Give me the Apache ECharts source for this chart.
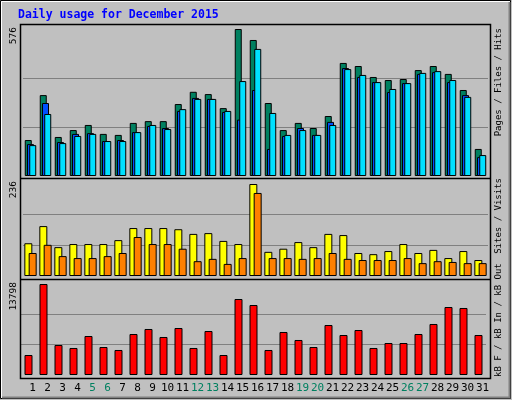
<!DOCTYPE html>
<html><head><meta charset="utf-8">
<script src="https://cdn.jsdelivr.net/npm/echarts@6/dist/echarts.min.js"></script>
<style>html,body{margin:0;padding:0;background:#c0c0c0}#c{width:512px;height:400px}</style>
</head><body><div id="c"></div>
<script>
const days = Array.from({length:31},(_,i)=>String(i+1));
const weekend = ['5','6','12','13','19','20','26','27'];
const hits  = [141,317,153,180,200,165,161,208,215,215,282,330,321,266,576,533,286,180,208,188,235,443,431,388,376,380,415,431,400,337,106];
const files = [125,286,133,165,168,137,141,172,196,188,255,306,302,251,221,337,106,157,188,161,212,423,388,368,329,364,400,407,368,317,74];
const pages = [121,243,129,157,165,137,137,172,200,184,262,302,302,255,372,498,247,161,180,161,200,419,396,368,341,364,404,411,376,310,82];
const visits= [84,128,74,82,82,82,92,123,123,123,120,108,110,90,82,236,62,70,87,74,108,105,59,56,64,82,59,67,46,64,41];
const sites = [59,80,51,46,46,51,59,100,82,82,70,38,44,31,46,213,46,46,44,46,59,44,41,41,41,46,33,38,36,33,33];
const kbytes= [3032,13798,4549,4094,5913,4245,3791,6216,6975,5762,7126,4094,6671,3032,11523,10613,3791,6520,5307,4245,7581,6065,6823,4094,4852,4852,6216,7733,10310,10159,6065];
const maxTop=576, maxMid=236, maxBot=13798;

const mono='DejaVu Sans Mono';
const chart = echarts.init(document.getElementById('c'));
function yAx(gi,max){return {gridIndex:gi,type:'value',min:0,max:max,interval:max/3,axisLabel:{show:false},axisLine:{show:false},axisTick:{show:false},
  splitLine:{show:true,showMaxLine:false,showMinLine:false,lineStyle:{color:'#808080',width:1}}};}
function xAx(gi,show){return {gridIndex:gi,type:'category',data:days,axisLine:{show:false},axisTick:{show:false},
  axisLabel:show?{show:true,interval:0,fontFamily:mono,fontSize:11,margin:8,padding:[0,0,0,8],
    color:(v)=>weekend.includes(v)?'#008060':'#000'}:{show:false}};}
const bs=(c)=>({color:c,borderColor:'#000',borderWidth:1});
const rich=(parts)=>parts.map(p=>'{'+p[1]+'|'+p[0]+'}').join('');
const f9={fontFamily:mono,fontSize:9};
const st={c:{...f9,color:'#00e0ff'},b:{...f9,color:'#0050ff'},h:{...f9,color:'#008060'},k:{...f9,color:'#000'},y:{...f9,color:'#e8e800'},o:{...f9,color:'#ff8000'},r:{...f9,color:'#ff0000'},g:{...f9,color:'#00c000'}};
function vt(x,y,align,text,size){return {type:'text',x:x,y:y,rotation:Math.PI/2,style:{text:text,rich:st,align:align,verticalAlign:'middle',font:(size||9)+'px '+mono,fill:'#000'}};}
chart.setOption({
  animation:false,
  backgroundColor:'#c0c0c0',
  grid:[{left:23,width:465,top:29,height:147},{left:23,width:465,top:184,height:92},{left:21,width:465,top:284,height:91}],
  xAxis:[xAx(0,false),xAx(1,false),xAx(2,true)],
  yAxis:[yAx(0,maxTop),yAx(1,maxMid),yAx(2,maxBot)],
  series:[
    {type:'bar',xAxisIndex:0,yAxisIndex:0,data:hits,barWidth:7,barGap:'-68%',itemStyle:bs('#008060')},
    {type:'bar',xAxisIndex:0,yAxisIndex:0,data:files,barWidth:7,barGap:'-68%',itemStyle:bs('#0050ff')},
    {type:'bar',xAxisIndex:0,yAxisIndex:0,data:pages,barWidth:7,barGap:'-68%',itemStyle:bs('#00e0ff')},
    {type:'bar',xAxisIndex:1,yAxisIndex:1,data:visits,barWidth:8,barGap:'-46%',itemStyle:bs('#ffff00')},
    {type:'bar',xAxisIndex:1,yAxisIndex:1,data:sites,barWidth:8,barGap:'-46%',itemStyle:bs('#ff8000')},
    {type:'bar',xAxisIndex:2,yAxisIndex:2,data:kbytes,barWidth:8,itemStyle:bs('#ff0000')}
  ],
  graphic:[
    {type:'rect',shape:{x:0.5,y:0.5,width:510,height:398},style:{fill:'none',stroke:'#000',lineWidth:1},z:-1},
    {type:'polyline',shape:{points:[[1.5,398],[1.5,1.5],[510,1.5]]},style:{stroke:'#fff',lineWidth:1,fill:'none'}},
    {type:'polyline',shape:{points:[[2,397.5],[509.5,397.5],[509.5,2]]},style:{stroke:'#808080',lineWidth:2,fill:'none'}},
    {type:'rect',shape:{x:20.5,y:24.5,width:470,height:354},style:{fill:'none',stroke:'#000',lineWidth:1.5},z:10},
    {type:'line',shape:{x1:20,y1:178.5,x2:491,y2:178.5},style:{stroke:'#000',lineWidth:1.5},z:10},
    {type:'line',shape:{x1:20,y1:279.5,x2:491,y2:279.5},style:{stroke:'#000',lineWidth:1.5},z:10},
    {type:'text',x:18,y:9,style:{text:'Daily usage for December 2015',font:'bold 11.5px '+mono,fill:'#0000ff'}},
    vt(14,27,'right',String(maxTop),9.5),
    vt(14,181,'right',String(maxMid),9.5),
    vt(14,282,'right',String(maxBot),9.5),
    vt(499,28,'right',rich([['Pages','c'],[' / ','k'],['Files','b'],[' / ','k'],['Hits','h']])),
    vt(499,178,'right',rich([['Sites','o'],[' / ','k'],['Visits','y']])),
    vt(499,377,'left',rich([['kB F','r'],[' / ','k'],['kB In','b'],[' / ','k'],['kB Out','g']]))
  ]
});
</script></body></html>
